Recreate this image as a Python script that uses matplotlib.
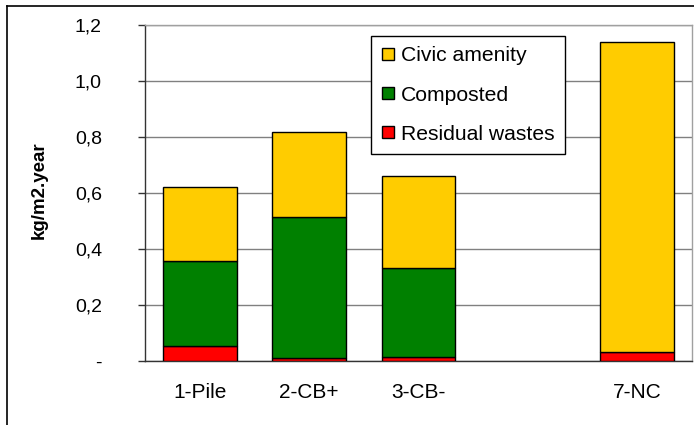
import matplotlib
matplotlib.use("Agg")
import matplotlib.pyplot as plt
from matplotlib.lines import Line2D
from matplotlib.patches import Patch
import numpy as np

plt.rcParams['font.family'] = ['Liberation Sans', 'DejaVu Sans']

categories = ['1-Pile', '2-CB+', '3-CB-', '', '7-NC']
residual = [0.055, 0.010, 0.015, np.nan, 0.032]
composted = [0.303, 0.503, 0.318, np.nan, 0.0]
civic = [0.261, 0.302, 0.325, np.nan, 1.107]
yticks = [0, 0.2, 0.4, 0.6, 0.8, 1.0, 1.2]
ytick_labels = ['-', '0,2', '0,4', '0,6', '0,8', '1,0', '1,2']

colors = {'Residual wastes': '#FF0000', 'Composted': '#008000', 'Civic amenity': '#FFCC00'}

fig = plt.figure(figsize=(6.94, 4.25), dpi=100)
ax = fig.add_axes([145/694, (425-361)/425, (692-145)/694, (361-24.5)/425])

x = np.arange(len(categories))
idx = [i for i, c in enumerate(categories) if c]
xs = x[idx]
res = np.array(residual)[idx]
comp = np.array(composted)[idx]
civ = np.array(civic)[idx]

w = 0.675
ax.bar(xs, res, w, color=colors['Residual wastes'], edgecolor='black', linewidth=1, zorder=3)
mask = comp > 0
ax.bar(xs[mask], comp[mask], w, bottom=res[mask], color=colors['Composted'], edgecolor='black', linewidth=1, zorder=3)
ax.bar(xs, civ, w, bottom=res + comp, color=colors['Civic amenity'], edgecolor='black', linewidth=1, zorder=3)

ax.set_xlim(-0.5, len(categories) - 0.5)
ax.set_ylim(0, 1.2)
ax.set_yticks(yticks)
ax.set_yticklabels(ytick_labels, fontsize=14)
ax.set_xticks(x)
ax.set_xticklabels(categories, fontsize=15)
ax.tick_params(axis='x', length=0, pad=16)
ax.tick_params(axis='y', length=5, width=1, pad=26, direction='out', color='#333333')

ax.yaxis.grid(True, color='#808080', linewidth=1, zorder=0)
ax.set_axisbelow(True)
for s in ['top', 'right']:
    ax.spines[s].set_color('#A0A0A0')
    ax.spines[s].set_linewidth(1)
for s in ['left', 'bottom']:
    ax.spines[s].set_color('#333333')
    ax.spines[s].set_linewidth(1)

ax.set_ylabel('kg/m2.year', fontsize=13.5, fontweight='bold')
ax.yaxis.set_label_coords(-0.178, 0.508)

handles = [Patch(facecolor=colors[k], edgecolor='black', linewidth=1) for k in ['Civic amenity', 'Composted', 'Residual wastes']]
leg = ax.legend(handles, ['Civic amenity', 'Composted', 'Residual wastes'],
                loc='upper left', bbox_to_anchor=(0.414, 0.966), fontsize=15.2,
                frameon=True, fancybox=False, shadow=False, framealpha=1,
                handlelength=0.55, handleheight=0.55, handletextpad=0.35,
                labelspacing=0.95, borderpad=0.5, borderaxespad=0)
leg.get_frame().set_edgecolor('black')
leg.get_frame().set_linewidth(1)

fig.add_artist(Line2D([7/694, 7/694], [0, (425-6)/425], color='black', linewidth=1.2, transform=fig.transFigure))
fig.add_artist(Line2D([7/694, 1], [(425-6)/425, (425-6)/425], color='black', linewidth=1.2, transform=fig.transFigure))

fig.savefig('out.png', dpi=100)
